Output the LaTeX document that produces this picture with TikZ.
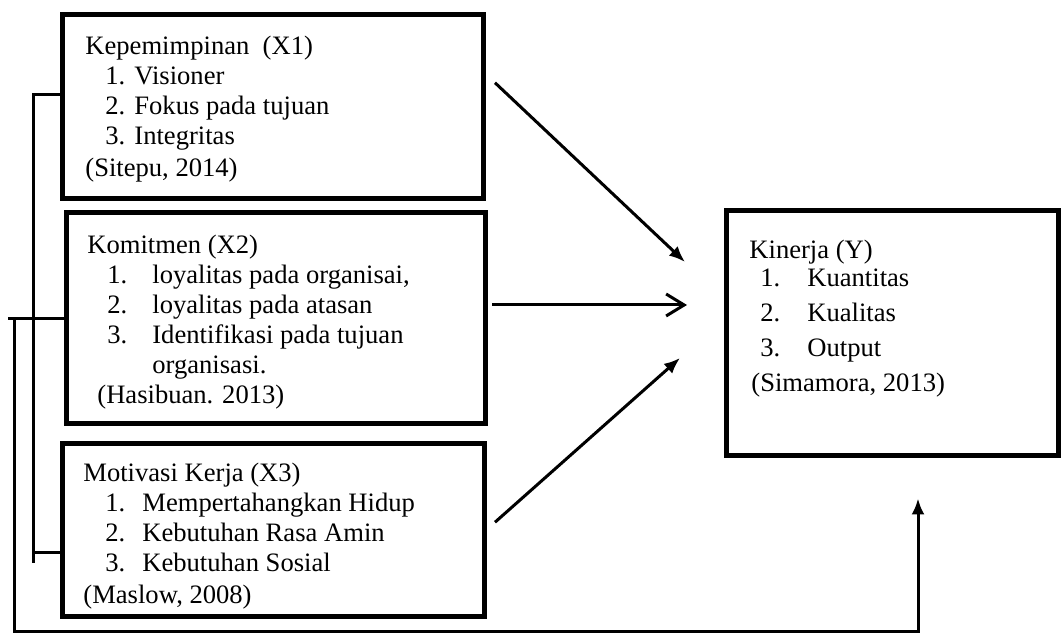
\documentclass[tikz,border=0pt]{standalone}
\usepackage{fontspec}
\setmainfont{Liberation Serif}
\usetikzlibrary{arrows.meta,positioning,calc}
\newcommand{\nitem}[3]{\hspace*{#1}\makebox[#2][l]{#3.}}

\begin{document}
\begin{tikzpicture}[x=0.5pt,y=-0.5pt,
  box/.style={draw,line width=2.5pt,inner sep=0pt,outer sep=0pt,anchor=north west},
  txt/.style={inner sep=0pt,anchor=north west,align=left,
    font=\fontsize{13.3pt}{15pt}\selectfont},
  line/.style={line width=1.5pt},
  arrow/.style={-{Latex[length=8pt,width=6.5pt]},line width=1.5pt},
  open arrow/.style={-{Straight Barb[length=9pt,width=11pt]},line width=1.5pt}]
\useasboundingbox (0,0) rectangle (1062,635);
\node[box,minimum width=210.5pt,minimum height=92.25pt] (x1) at (62,14.5) {};
\node[box,below=7pt of x1.south west,anchor=north west,xshift=2pt,
  minimum width=209.75pt,minimum height=105.5pt] (x2) {};
\node[box,below=9.75pt of x2.south west,anchor=north west,xshift=-2pt,
  minimum width=211pt,minimum height=86.75pt] (x3) {};
\node[box,minimum width=166pt,minimum height=122.5pt] (y) at (726,210.5) {};
\node[txt] (x1txt) at ($(x1.north west)+(23,20.7)$) {Kepemimpinan\ \ (X1)\\
  \nitem{10pt}{14.5pt}{1}Visioner\\
  \nitem{10pt}{14.5pt}{2}Fokus pada tujuan\\
  \nitem{10pt}{14.5pt}{3}Integritas\\[1pt]
  (Sitepu, 2014)};
\node[txt] (x2txt) at ($(x2.north west)+(21,21.2)$) {Komitmen (X2)\\
  \nitem{10pt}{22.5pt}{1}loyalitas pada organisai,\\
  \nitem{10pt}{22.5pt}{2}loyalitas pada atasan\\
  \nitem{10pt}{22.5pt}{3}Identifikasi pada tujuan\\
  \hspace*{32.5pt}organisasi.\\
  \hspace*{5pt}(Hasibuan. 2013)};
\node[txt] (x3txt) at ($(x3.north west)+(21,18.7)$) {Motivasi Kerja (X3)\\
  \nitem{11pt}{18.5pt}{1}Mempertahangkan Hidup\\
  \nitem{11pt}{18.5pt}{2}Kebutuhan Rasa Amin\\
  \nitem{11pt}{18.5pt}{3}Kebutuhan Sosial\\[1pt]
  (Maslow, 2008)};
\node[txt] (ytxt) at ($(y.north west)+(23,28.7)$) {Kinerja (Y)\\[-1pt]
  \nitem{5.5pt}{23.5pt}{1}Kuantitas\\[2.5pt]
  \nitem{5.5pt}{23.5pt}{2}Kualitas\\[2.5pt]
  \nitem{5.5pt}{23.5pt}{3}Output\\[2.5pt]
  \hspace*{1pt}(Simamora, 2013)};
% arrows into Kinerja
\draw[arrow] ($(x1.east)+(12,-24)$) -- ($(y.west)+(-41,-71)$);
\draw[open arrow] ($(x2.east)+(6.5,-13.5)$) -- ($(y.west)+(-39,-28)$);
\draw[arrow] ($(x3.east)+(11,-8)$) -- ($(y.west)+(-46,25)$);
% brackets on the left
\draw[line] ($(x1.west)+(0,-12)$) -- ++(-29,0) -- ++(0,468);
\draw[line] ($(x3.west)+(0,22)$) -- ++(-29,0);
\draw[line] (x2.west) -- ++(-58,0);
\draw[line,arrow] ($(x2.west)+(-52,0)$) |- ($(y.south)+(26,176.5)$)
  -- ($(y.south)+(26,43)$);
\end{tikzpicture}
\end{document}
